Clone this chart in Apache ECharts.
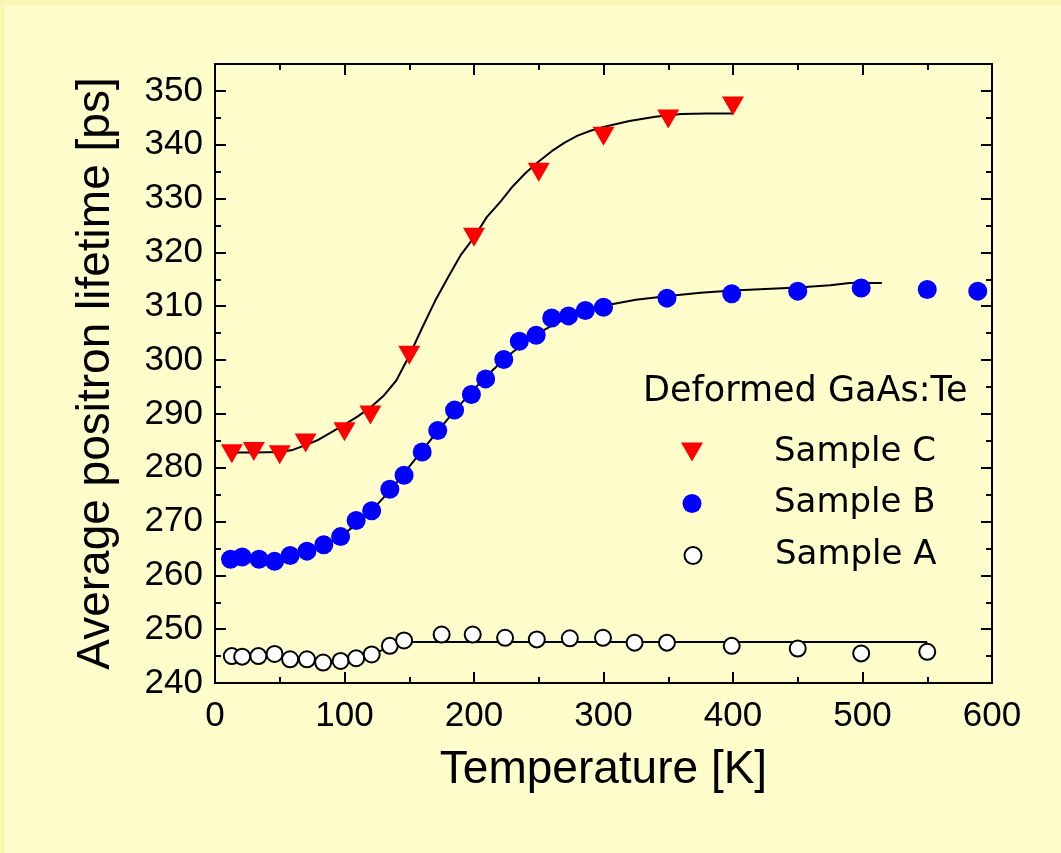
<!DOCTYPE html>
<html><head><meta charset="utf-8">
<script src="https://cdn.jsdelivr.net/npm/echarts@6/dist/echarts.min.js"></script>
<style>
html,body{margin:0;padding:0;background:#FAF6B4;width:1061px;height:853px;overflow:hidden}
#c{position:absolute;left:5px;top:5px;width:1056px;height:848px;background:#FFFDCC}
</style></head><body><div id="c"></div>
<script>
// ---- data ----
const xRange = [0, 600];
const yRange = [240, 355];

const sampleC_T = [13, 30, 50, 70, 100, 120, 150, 200, 250, 300, 350, 400];
const sampleC_L = [282.6, 283.0, 282.4, 284.6, 286.7, 289.8, 300.9, 322.8, 334.9, 341.6, 344.8, 347.2];

const sampleB_T = [12, 21, 34, 46, 58, 71, 84, 97, 109, 121, 135, 146, 160, 172, 185, 198, 209, 223, 235, 248, 260, 273, 286, 300, 349, 399, 450, 499, 550, 589];
const sampleB_L = [263.0, 263.4, 263.0, 262.6, 263.7, 264.5, 265.7, 267.2, 270.2, 272.0, 276.0, 278.6, 282.9, 286.9, 290.7, 293.6, 296.5, 300.1, 303.5, 304.6, 307.8, 308.2, 309.2, 309.8, 311.5, 312.3, 312.8, 313.4, 313.1, 312.8];

const sampleA_T = [13, 21, 33.5, 46, 58, 71, 83.5, 97, 109, 121, 135, 146, 175, 199, 224, 248.5, 274, 299.6, 324, 349, 399, 450, 499, 550];
const sampleA_L = [245.0, 244.9, 245.0, 245.4, 244.4, 244.4, 243.8, 244.1, 244.6, 245.3, 246.9, 247.9, 249.0, 249.0, 248.4, 248.1, 248.3, 248.4, 247.5, 247.5, 246.9, 246.4, 245.5, 245.8];

const fitC_T = [13, 30, 50, 60, 70, 80, 90, 100, 110, 120, 130, 140, 150, 160, 170, 180, 190, 200, 210, 220, 230, 240, 250, 260, 270, 280, 290, 300, 320, 340, 360, 380, 400];
const fitC_L = [282.8, 282.8, 282.9, 283.3, 284.2, 285.2, 286.6, 288.0, 289.5, 291.2, 293.3, 296.2, 300.8, 306.0, 311.0, 315.4, 319.6, 322.8, 326.6, 329.3, 332.3, 334.8, 336.9, 338.8, 340.4, 341.7, 342.6, 343.3, 344.4, 345.2, 345.7, 345.8, 345.8];

const fitB_T = [12, 30, 50, 60, 70, 80, 90, 100, 110, 120, 130, 140, 150, 160, 170, 180, 190, 200, 210, 220, 230, 240, 250, 260, 270, 280, 290, 300, 325, 350, 375, 400, 425, 450, 475, 490, 515];
const fitB_L = [263.2, 263.2, 263.4, 263.8, 264.4, 265.2, 266.3, 267.8, 269.6, 271.8, 274.4, 277.2, 280.2, 283.2, 286.2, 289.1, 291.9, 294.6, 297.1, 299.4, 301.5, 303.3, 305.0, 306.4, 307.6, 308.6, 309.4, 310.1, 311.2, 311.9, 312.5, 312.9, 313.2, 313.5, 313.9, 314.3, 314.3];

const fitA_T = [12, 30, 50, 70, 85, 100, 115, 125, 135, 145, 150, 550];
const fitA_L = [245.0, 245.0, 244.9, 244.5, 244.1, 244.3, 244.9, 245.7, 246.7, 247.5, 247.6, 247.6];

const seriesNames = ['Sample C', 'Sample B', 'Sample A'];
const legendTitle = 'Deformed GaAs:Te';
const xTitle = 'Temperature [K]';
const yTitle = 'Average positron lifetime [ps]';

// ---- chart ----
const zip = (a, b) => a.map((v, i) => [v, b[i]]);
const triDown = 'path://M0,0L22,0L11,19Z';
const black = '#000';
const lineAx = { onZero: false, lineStyle: { color: black, width: 2 } };
const tickFont = { fontFamily: 'Liberation Sans', fontSize: 35, color: black };
const titleFont = { fontFamily: 'Liberation Sans', fontSize: 46, color: black };
const legFont = (pad) => ({ fontFamily: 'DejaVu Sans', fontSize: 34, color: black, padding: [0, 0, 0, pad] });

function xAx(pos, labels) {
  return {
    type: 'value', min: xRange[0], max: xRange[1], interval: 100, position: pos,
    axisLine: lineAx,
    axisTick: { inside: true, length: 11, lineStyle: { color: black, width: 2 } },
    minorTick: { show: true, splitNumber: 2, length: 6, lineStyle: { color: black, width: 2 } },
    splitLine: { show: false }, minorSplitLine: { show: false },
    axisLabel: labels ? Object.assign({ margin: 16 }, tickFont) : { show: false },
    name: labels ? xTitle : '', nameLocation: 'middle', nameGap: 64, nameTextStyle: titleFont
  };
}
function yAx(pos, labels, minor) {
  return {
    type: 'value', min: yRange[0], max: yRange[1], interval: minor ? 5 : 10, position: pos,
    axisLine: lineAx,
    axisTick: { inside: true, length: minor ? 6 : 11, lineStyle: { color: black, width: 2 } },
    splitLine: { show: false },
    axisLabel: labels ? Object.assign({ margin: 12, showMaxLabel: false }, tickFont) : { show: false },
    name: labels ? yTitle : '', nameLocation: 'middle', nameGap: 96, nameTextStyle: titleFont
  };
}

const chart = echarts.init(document.getElementById('c'), null, { renderer: 'canvas' });
chart.setOption({
  backgroundColor: '#FFFDCC',
  animation: false,
  grid: { left: 210, top: 59, width: 777, height: 619, containLabel: false },
  title: {
    text: legendTitle, left: 638, top: 369, padding: 0,
    textStyle: { fontFamily: 'DejaVu Sans', fontSize: 35, fontWeight: 'normal', color: black }
  },
  legend: [
    { data: [{ name: seriesNames[0], icon: triDown }], orient: 'vertical', left: 676, top: 430, padding: 0,
      itemWidth: 22, itemHeight: 19, selectedMode: false, textStyle: legFont(66) },
    { data: [{ name: seriesNames[1], icon: 'circle' }], orient: 'vertical', left: 677.5, top: 481.5, padding: 0,
      itemWidth: 19, itemHeight: 19, selectedMode: false, textStyle: legFont(67.5) },
    { data: [{ name: seriesNames[2], icon: 'circle', itemStyle: { color: '#fff', borderColor: black, borderWidth: 2 } }],
      orient: 'vertical', left: 678.5, top: 533.5, padding: 0,
      itemWidth: 17, itemHeight: 17, selectedMode: false, textStyle: legFont(68.5) }
  ],
  xAxis: [xAx('bottom', true), xAx('top', false)],
  yAxis: [yAx('left', true, false), yAx('left', false, true), yAx('right', false, false), yAx('right', false, true)],
  series: [
    { type: 'line', name: 'fitC', data: zip(fitC_T, fitC_L), showSymbol: false, symbol: 'none', z: 2,
      lineStyle: { color: black, width: 2 }, silent: true },
    { type: 'line', name: 'fitB', data: zip(fitB_T, fitB_L), showSymbol: false, symbol: 'none', z: 2,
      lineStyle: { color: black, width: 2 }, silent: true },
    { type: 'line', name: 'fitA', data: zip(fitA_T, fitA_L), showSymbol: false, symbol: 'none', z: 2,
      lineStyle: { color: black, width: 2 }, silent: true },
    { type: 'scatter', name: seriesNames[0], data: zip(sampleC_T, sampleC_L), symbol: triDown, symbolSize: [22, 19], z: 3,
      itemStyle: { color: '#FF0000', opacity: 1 } },
    { type: 'scatter', name: seriesNames[1], data: zip(sampleB_T, sampleB_L), symbol: 'circle', symbolSize: 19, z: 3,
      itemStyle: { color: '#0000FF', opacity: 1 } },
    { type: 'scatter', name: seriesNames[2], data: zip(sampleA_T, sampleA_L), symbol: 'circle', symbolSize: 16, z: 3,
      itemStyle: { color: '#FFFFFF', borderColor: black, borderWidth: 2, opacity: 1 } }
  ]
});
</script></body></html>
